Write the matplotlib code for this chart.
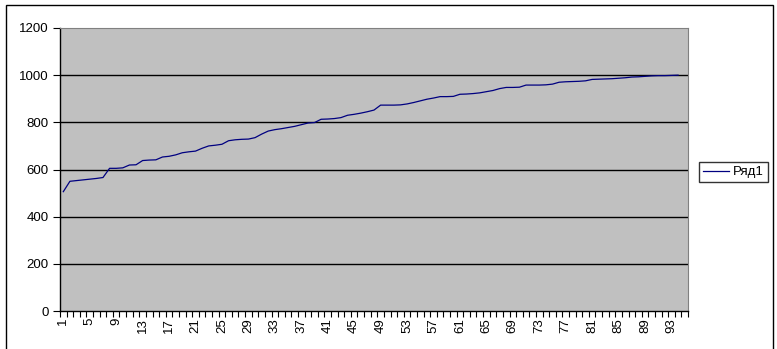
import numpy as np
import matplotlib.pyplot as plt
from matplotlib.patches import Rectangle

plt.rcParams['font.family'] = ['Liberation Sans', 'DejaVu Sans']

# series values (categories 1..94 of 95)
n_categories = 95
values = [506, 550, 553, 556, 559, 562, 566, 605, 605, 607,
          619, 620, 638, 640, 641, 653, 656, 662, 671, 675,
          678, 690, 700, 703, 707, 722, 726, 728, 729, 735,
          750, 763, 769, 773, 778, 783, 790, 797, 799, 813,
          814, 816, 820, 830, 834, 839, 845, 852, 873, 873,
          873, 874, 878, 884, 891, 898, 903, 909, 909, 910,
          919, 920, 922, 925, 930, 935, 943, 948, 948, 949,
          958, 958, 958, 959, 962, 970, 972, 973, 974, 976,
          982, 983, 984, 985, 987, 989, 992, 993, 995, 997,
          998, 998, 999, 1000]
series_name = "Ряд1"
y_ticks = [0, 200, 400, 600, 800, 1000, 1200]

W, H = 777, 349
fig = plt.figure(figsize=(W / 100, H / 100), dpi=100)

# chart area border (bottom edge is cut off in the original)
fig.patches.append(Rectangle((6 / W, -0.05), (773 - 6) / W, 1.05 - 5 / H,
                             transform=fig.transFigure, fill=False,
                             edgecolor='black', linewidth=1.0))

ax = fig.add_axes([60 / W, (H - 311) / H, (688 - 60) / W, (311 - 28) / H])
ax.set_facecolor('#C0C0C0')

x = np.arange(1, len(values) + 1)
ax.plot(x, values, color='#000080', linewidth=0.9, label=series_name)

ax.set_xlim(0.5, n_categories + 0.5)
ax.set_ylim(0, 1200)
ax.set_yticks(y_ticks)
ax.set_yticklabels([str(v) for v in y_ticks], fontsize=9.5)
for v in y_ticks[1:-1]:
    ax.axhline(v, color='black', linewidth=1.0, zorder=1)

# tick marks between categories, labels on every 4th category
ax.set_xticks(np.arange(0.5, n_categories + 1, 1))
ax.set_xticklabels([])
lab_pos = np.arange(1, n_categories, 4)
ax.set_xticks(lab_pos, minor=True)
ax.set_xticklabels([str(p) for p in lab_pos], minor=True, rotation=90, fontsize=9.5)
ax.tick_params(axis='x', which='major', direction='out', length=4, width=0.8)
ax.tick_params(axis='x', which='minor', length=0, pad=5)
ax.tick_params(axis='y', direction='out', length=5, width=0.8, pad=3)

ax.spines['left'].set_color('black')
ax.spines['bottom'].set_color('black')
ax.spines['left'].set_linewidth(1.0)
ax.spines['bottom'].set_linewidth(1.0)
ax.spines['top'].set_color('#808080')
ax.spines['right'].set_color('#808080')

leg = fig.legend(loc='center left', bbox_to_anchor=(699 / W, 1 - 172 / H),
                 fontsize=9.5, frameon=True, fancybox=False, borderpad=0.3,
                 handlelength=2.0, handletextpad=0.3, borderaxespad=0)
leg.get_frame().set_edgecolor('black')
leg.get_frame().set_linewidth(1.0)

fig.savefig('out.png', dpi=100)
